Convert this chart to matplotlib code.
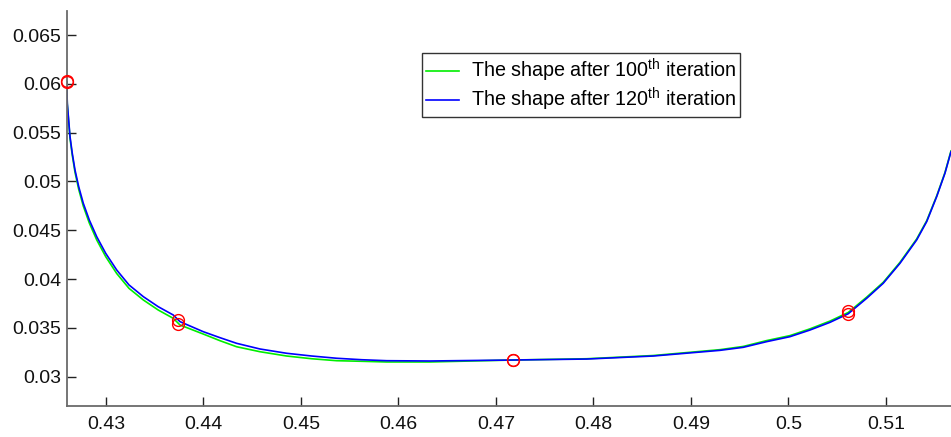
import matplotlib
matplotlib.use("Agg")
import matplotlib.pyplot as plt

plt.rcParams['font.family'] = ['Liberation Sans', 'DejaVu Sans']
plt.rcParams['mathtext.fontset'] = 'custom'
plt.rcParams['mathtext.rm'] = 'Liberation Sans'
plt.rcParams['mathtext.default'] = 'regular'

# Sample abscissae along the boundary
x_shape = [0.42597, 0.42603, 0.42617, 0.42631, 0.42654, 0.42682, 0.42720, 0.42767,
           0.42829, 0.42905, 0.42997, 0.43110, 0.43236, 0.43383, 0.43536, 0.43690,
           0.43759, 0.43998, 0.44169, 0.44340, 0.44579, 0.44853, 0.45110, 0.45366,
           0.45622, 0.45879, 0.46323, 0.47177, 0.47930, 0.48613, 0.49297, 0.49536,
           0.49776, 0.50015, 0.50220, 0.50426, 0.50613, 0.50802, 0.50972, 0.51144,
           0.51315, 0.51418, 0.51520, 0.51605, 0.51667]

# Boundary shape after 100 iterations
y_100 = [0.06020, 0.05790, 0.05615, 0.05443, 0.05270, 0.05095, 0.04920, 0.04748,
         0.04574, 0.04401, 0.04230, 0.04057, 0.03905, 0.03786, 0.03683, 0.03598,
         0.03530, 0.03437, 0.03369, 0.03307, 0.03256, 0.03212, 0.03184, 0.03164,
         0.03158, 0.03151, 0.03151, 0.03171, 0.03184, 0.03217, 0.03277, 0.03310,
         0.03370, 0.03421, 0.03490, 0.03570, 0.03658, 0.03815, 0.03967, 0.04172,
         0.04411, 0.04598, 0.04851, 0.05091, 0.05313]

# Boundary shape after 120 iterations
y_120 = [0.06020, 0.05801, 0.05630, 0.05459, 0.05289, 0.05118, 0.04947, 0.04777,
         0.04605, 0.04434, 0.04264, 0.04093, 0.03940, 0.03820, 0.03717, 0.03632,
         0.03564, 0.03461, 0.03400, 0.03342, 0.03284, 0.03240, 0.03212, 0.03189,
         0.03174, 0.03164, 0.03161, 0.03171, 0.03181, 0.03212, 0.03270, 0.03301,
         0.03359, 0.03410, 0.03478, 0.03557, 0.03645, 0.03803, 0.03957, 0.04162,
         0.04401, 0.04589, 0.04844, 0.05084, 0.05305]

# Control points of each shape
ctrl_x_100 = [0.42597, 0.43742, 0.47174, 0.50613]
ctrl_y_100 = [0.06030, 0.03545, 0.03170, 0.03676]
ctrl_x_120 = [0.42597, 0.43742, 0.47174, 0.50613]
ctrl_y_120 = [0.06020, 0.03586, 0.03170, 0.03642]

xticks = [0.43, 0.44, 0.45, 0.46, 0.47, 0.48, 0.49, 0.50, 0.51]
xtick_labels = ['0.43', '0.44', '0.45', '0.46', '0.47', '0.48', '0.49', '0.5', '0.51']
yticks = [0.030, 0.035, 0.040, 0.045, 0.050, 0.055, 0.060, 0.065]
ytick_labels = ['0.03', '0.035', '0.04', '0.045', '0.05', '0.055', '0.06', '0.065']

W, H = 951, 437
fig = plt.figure(figsize=(W / 100, H / 100), dpi=100)
left, right, top, bottom = 66.7, 951, 11, 406
ax = fig.add_axes([left / W, (H - bottom) / H, (right - left) / W, (bottom - top) / H])

ax.plot(x_shape, y_100, color='#00ee00', lw=1.2,
        label=r'The shape after 100$^{th}$ iteration')
ax.plot(x_shape, y_120, color='#0000ff', lw=1.2,
        label=r'The shape after 120$^{th}$ iteration')
ax.plot(ctrl_x_100, ctrl_y_100, 'o', mfc='none', mec='red', ms=8.5, mew=1.0,
        clip_on=False, zorder=5)
ax.plot(ctrl_x_120, ctrl_y_120, 'o', mfc='none', mec='red', ms=8.5, mew=1.0,
        clip_on=False, zorder=5)

ax.set_xlim(0.42597, 0.51667)
ax.set_ylim(0.02700, 0.06746)
ax.set_xticks(xticks)
ax.set_xticklabels(xtick_labels)
ax.set_yticks(yticks)
ax.set_yticklabels(ytick_labels)

for s in ['top', 'right']:
    ax.spines[s].set_visible(False)
for s in ['left', 'bottom']:
    ax.spines[s].set_color('#6a6a6a')
    ax.spines[s].set_linewidth(1.3)

ax.tick_params(axis='both', direction='in', length=6.3, width=1.0,
               color='#222222', labelsize=14, labelcolor='#111111')
ax.tick_params(axis='x', pad=7)
ax.tick_params(axis='y', pad=4)

leg = ax.legend(loc='upper left', bbox_to_anchor=(0.4014, 0.8937), borderaxespad=0,
                fontsize=14.2, frameon=True, fancybox=False, edgecolor='black',
                handlelength=1.7, handletextpad=0.6, labelspacing=0.08,
                borderpad=0.2)
leg.get_frame().set_linewidth(1.0)

fig.savefig('out.png', dpi=100)
